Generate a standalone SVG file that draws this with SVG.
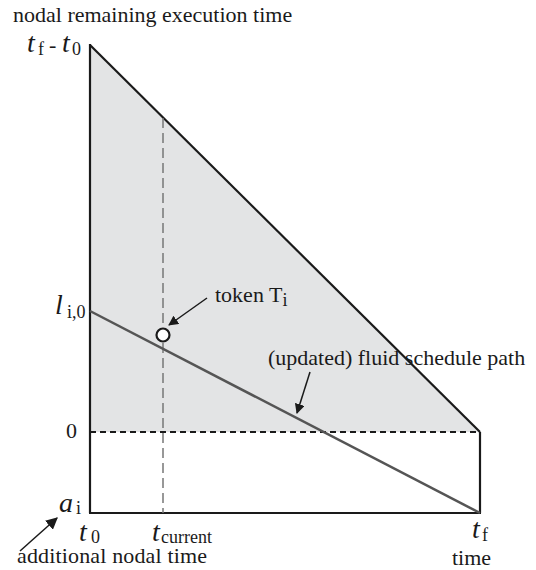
<svg xmlns="http://www.w3.org/2000/svg" width="536" height="570" viewBox="0 0 536 570">
<style>
text{font-family:"Liberation Serif","Times New Roman",serif;fill:#1a1a1a}
.lbl{font-size:22px}
.it{font-style:italic;font-size:28px}
.sub{font-size:18px}
.ax{stroke:#1a1a1a;stroke-width:2.2;fill:none}
</style>
<defs>
<marker id="ah" viewBox="0 0 10 10" refX="9" refY="5" markerWidth="10" markerHeight="10" markerUnits="userSpaceOnUse" orient="auto"><path d="M0,0 L10,5 L0,10 z" fill="#1a1a1a"/></marker>
<marker id="ah2" viewBox="0 0 10 10" refX="9" refY="5" markerWidth="12" markerHeight="12" markerUnits="userSpaceOnUse" orient="auto"><path d="M0,0 L10,5 L0,10 z" fill="#1a1a1a"/></marker>
</defs>
<g id="region">
<polygon points="90,45 480,432 90,432" fill="#e3e4e5"/>
</g>
<g id="connectors">
<line class="ax" x1="90" y1="45" x2="480" y2="432"/>
<line class="ax" x1="90" y1="44" x2="90" y2="513"/>
<line class="ax" x1="89" y1="513" x2="481" y2="513"/>
<line class="ax" x1="480" y1="432" x2="480" y2="513"/>
<line x1="90" y1="432" x2="480" y2="432" stroke="#1a1a1a" stroke-width="2" stroke-dasharray="6,4"/>
<line x1="163" y1="118" x2="163" y2="513" stroke="#777" stroke-width="1.5" stroke-dasharray="10,5"/>
<line x1="90" y1="311" x2="480" y2="513" stroke="#555" stroke-width="2.5"/>
<line x1="207" y1="298" x2="169" y2="325" stroke="#1a1a1a" stroke-width="1.5" marker-end="url(#ah)"/>
<line x1="310" y1="372" x2="297" y2="413" stroke="#1a1a1a" stroke-width="1.5" marker-end="url(#ah)"/>
<line x1="20" y1="551" x2="57" y2="518" stroke="#1a1a1a" stroke-width="1.5" marker-end="url(#ah2)"/>
</g>
<g id="token">
<circle cx="163" cy="335" r="6.5" fill="#fff" stroke="#1a1a1a" stroke-width="2.2"/>
<text x="215" y="302" class="lbl">token T<tspan class="sub" dy="4">i</tspan></text>
</g>
<g id="labels">
<text x="13" y="22" class="lbl">nodal remaining execution time</text>
<text x="27" y="52" class="it">t</text>
<text x="38" y="55" class="sub">f</text>
<text x="49" y="52" class="lbl">-</text>
<text x="62" y="52" class="it">t</text>
<text x="72" y="55" class="sub">0</text>
<text x="55" y="314" class="it">l</text>
<text x="67" y="318" class="sub">i,0</text>
<text x="66" y="438" class="lbl">0</text>
<text x="59" y="512" class="it">a</text>
<text x="76" y="514" class="sub">i</text>
<text x="79" y="541" class="it">t</text>
<text x="91" y="543" class="sub">0</text>
<text x="152" y="541" class="it">t</text>
<text x="161" y="543" class="sub">current</text>
<text x="472" y="538" class="it">t</text>
<text x="482" y="541" class="sub">f</text>
<text x="452" y="565" class="lbl">time</text>
<text x="17" y="563" class="lbl" textLength="190">additional nodal time</text>
<text x="268" y="365" class="lbl">(updated) fluid schedule path</text>
</g>
</svg>
